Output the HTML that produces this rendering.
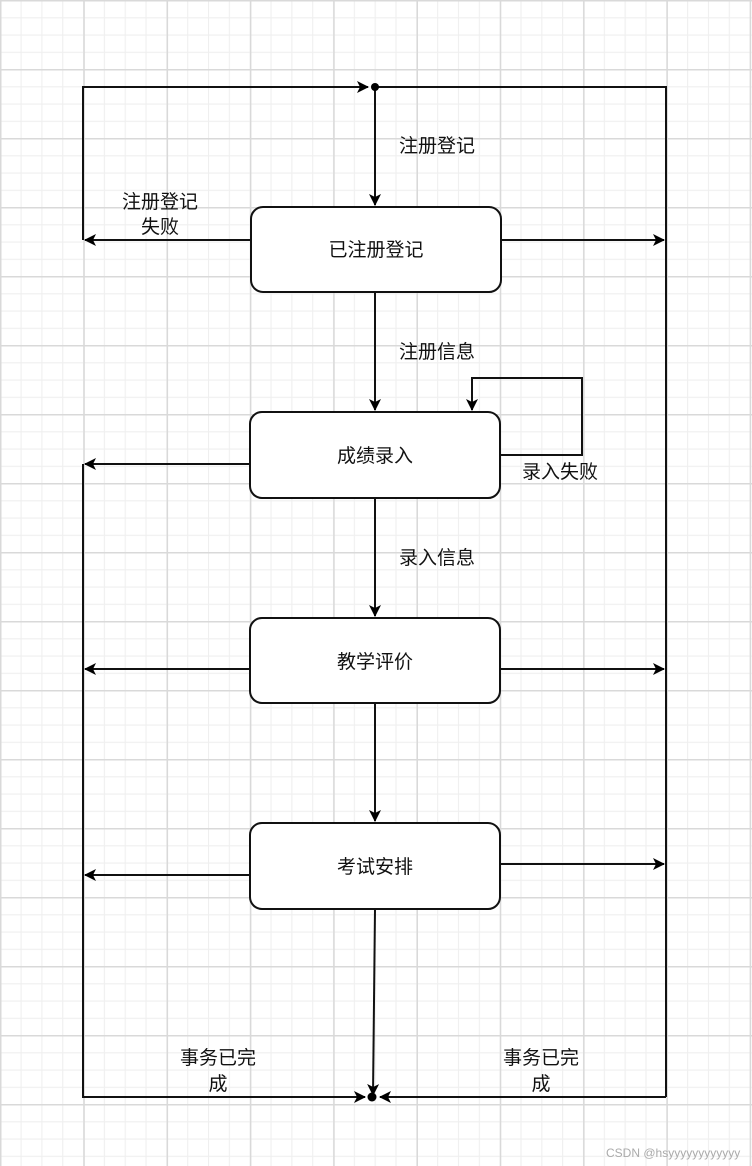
<!DOCTYPE html>
<html><head><meta charset="utf-8"><style>
html,body{margin:0;padding:0;background:#fff}
svg{display:block}
text{font-family:"Liberation Sans","Noto Sans CJK SC",sans-serif;font-size:19px;fill:#111}
</style></head><body>
<svg width="752" height="1166" viewBox="0 0 752 1166" xmlns="http://www.w3.org/2000/svg">
<defs>
<pattern id="minor" width="20.83" height="17.25" patternUnits="userSpaceOnUse" x="0" y="0">
<path d="M0.5 0V17.25M0 0.5H20.83" stroke="#efefef" stroke-width="1.2" fill="none"/>
</pattern>
<pattern id="major" width="83.3" height="69" patternUnits="userSpaceOnUse" x="0" y="0">
<path d="M0.5 0V69M0 0.5H83.3" stroke="#d9d9d9" stroke-width="2" fill="none"/>
</pattern>
<marker id="ah" viewBox="0 0 12 12" refX="11" refY="6" markerWidth="12" markerHeight="12" markerUnits="userSpaceOnUse" orient="auto">
<path d="M0 0L12 6L0 12L3 6Z" fill="#000"/>
</marker>
</defs>
<rect width="752" height="1166" fill="#fff"/>
<rect x="0" y="0" width="752" height="1166" fill="url(#minor)" transform="translate(-0.3,0)"/>
<rect x="0" y="0" width="752" height="1166" fill="url(#major)" transform="translate(0,0)"/>
<g stroke="#111" stroke-width="2" fill="none">
<!-- top line -->
<path d="M83 240V87H368" marker-end="url(#ah)"/>
<path d="M375 87H666V1097"/>
<path d="M375 87V205" marker-end="url(#ah)"/>
<path d="M251 240H85" marker-end="url(#ah)"/>
<path d="M501 240H664" marker-end="url(#ah)"/>
<path d="M375 292V410" marker-end="url(#ah)"/>
<path d="M500 455H582V378H472V410" marker-end="url(#ah)"/>
<path d="M250 464H85" marker-end="url(#ah)"/>
<path d="M83 464V1097H365" marker-end="url(#ah)"/>
<path d="M375 498V616" marker-end="url(#ah)"/>
<path d="M250 669H85" marker-end="url(#ah)"/>
<path d="M500 669H664" marker-end="url(#ah)"/>
<path d="M375 703V821" marker-end="url(#ah)"/>
<path d="M250 875H85" marker-end="url(#ah)"/>
<path d="M500 864H664" marker-end="url(#ah)"/>
<path d="M375 909L373 1095" marker-end="url(#ah)"/>
<path d="M666 1097H380" marker-end="url(#ah)"/>
<rect x="251" y="207" width="250" height="85" rx="12" fill="#fff"/>
<rect x="250" y="412" width="250" height="86" rx="12" fill="#fff"/>
<rect x="250" y="618" width="250" height="85" rx="12" fill="#fff"/>
<rect x="250" y="823" width="250" height="86" rx="12" fill="#fff"/>
</g>
<circle cx="375" cy="87" r="4" fill="#000"/>
<circle cx="372" cy="1097" r="4.5" fill="#000"/>
<g text-anchor="middle">
<text x="376" y="256">已注册登记</text>
<text x="375" y="462">成绩录入</text>
<text x="375" y="668">教学评价</text>
<text x="375" y="873">考试安排</text>
<text x="437" y="152">注册登记</text>
<text x="160" y="208">注册登记</text>
<text x="160" y="233">失败</text>
<text x="437" y="358">注册信息</text>
<text x="560" y="478">录入失败</text>
<text x="437" y="564">录入信息</text>
<text x="218" y="1064">事务已完</text>
<text x="218" y="1090">成</text>
<text x="541" y="1064">事务已完</text>
<text x="541" y="1090">成</text>
</g>
<text x="606" y="1157" style="font-size:12px;fill:#aaa">CSDN @hsyyyyyyyyyyyy</text>
</svg>
</body></html>
